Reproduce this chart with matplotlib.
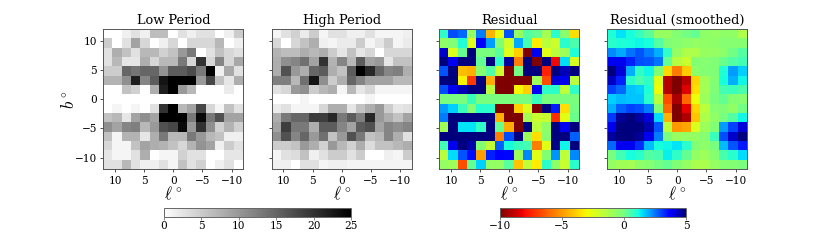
import matplotlib
matplotlib.use('Agg')
import matplotlib.pyplot as plt
import numpy as np
from matplotlib.colors import TwoSlopeNorm, Normalize
from matplotlib.cm import ScalarMappable

plt.rcParams['font.family'] = 'DejaVu Serif'
plt.rcParams['mathtext.fontset'] = 'cm'

titles = ['Low Period', 'High Period', 'Residual', 'Residual (smoothed)']
ticks = [10, 5, 0, -5, -10]
gray_ticks = [0, 5, 10, 15, 20, 25]
jet_ticks = [-10, -5, 0, 5]

low_period = [
 [0,0,1.5,3,1.5,6.5,6.5,0,3,1.5,3,3,0,1.5,5],
 [5,0,3,9,4,0,1.5,4,0,4,4,4,7,0,1.5],
 [3,8,6,3,7,7,4.5,6,10,13,0,3,6,4,3],
 [3,7,2.5,2.5,8,4,7,7,13,4,20,4,12,4,8.5],
 [5,5,15,13.5,15,15,10.5,16,16,17.5,13,25,1.5,8.5,3],
 [7.5,7.5,11,22,12,16,23,25,25,25,10,18,6,2.5,8],
 [0,0,6,4.5,0,8,22,25,10,7,0,0,0,2,0],
 [0,0,0,0,0,0,0,0,0,0,0,0,0,0,0],
 [0,1,0,1,0,3,20,25,7,9,18,4,1,6,3],
 [6,7,2.5,9,11,9,25,25,25,13,24,13,17,9,9],
 [11,9,12,12.5,7,10,17,18,24,10,20,11,4.5,7.5,4.5],
 [6,1,7.5,7.5,2.5,8,13,7,7,13,10,7,6,1.5,1.5],
 [4,1,1,6,9,8,7.5,6,4,7.5,10.5,9,1.5,5,3],
 [2.5,1,1,3,8,0,1,1,4.5,3,3,0,0,2.5,2.5],
 [3,3,7,3,1.5,1.5,3,1,6,3,4.5,0,1.5,3,0],
]
high_period = [
 [1,3,4.5,2,5,1,3,3,1.5,1.5,3,1,1,1,1.5],
 [4,0,4,6,8,1.5,1,2,2,5,1,2.5,5,1,2],
 [7.5,6.5,6.5,8,7,8,5,2.5,6,2.5,4,0,4,4,4],
 [8,11,12,14,9,20,7.5,12,7,16,9,10,2.5,6,6],
 [8,17,10,8,15,16,8,6,16,25,21,15,12,12.5,8],
 [12.5,12.5,7,14,23,11,5,8,15,12,9,9,9,7,7],
 [3,4,10,11,5,7,8,1,7,2.5,4,1,1,1,1],
 [0,0,0,1,0,0,0,0,0,0,1,0,0,0,0],
 [2,3,1,1,1,4,8,8,2.5,6,8,10,5,2.5,3],
 [8,13,15,15,19,19,21,13,16,12.5,21,10,8,6,9],
 [9,19,13,13,8,16,16,12,9,16,17,9,12,11,12],
 [11,17,12,15,10,14,6,10,17,13,6,7,12,8,3],
 [5,5,6,10,8,4.5,10,7,4.5,8,3.5,6,6,7,8],
 [1,3,3.5,6,1.5,3,5,5,3,5,0,0,1.5,1,5],
 [1.5,1.5,0,3,3,1,1.5,1.5,1,1,1,1,1,1,1],
]
residual = [
 [.9,3,2.7,-.7,2.5,-4.3,-2.6,2.9,-.7,.5,.3,-1,1,-.3,-3.5],
 [-.5,-.2,1.1,-2.4,3.9,2.2,-.1,-2,2.1,.7,-3.2,-1.5,-2,1,.6],
 [4.3,-2.3,.3,5,0,0,.4,-2.4,-3.8,-10,4,-2.5,-1.5,-.8,1.1],
 [5,4,5,5,.3,5,.9,4.7,-5.5,5,-10,5,-8,1.6,-2.2],
 [2.9,5,-4.2,-4.4,-.3,.5,-1.9,-10,.1,5,5,-7.5,5,4.5,5],
 [5,5,-3,-7,5,-4.5,-10,-10,-10,-10,-.8,-6.5,4.2,4,-1.5],
 [3,4,4.5,5,5,-1.5,-10,-10,-3,-3.8,3.8,.9,1,-1.6,.9],
 [0,0,0,.8,0,0,0,0,0,0,.8,0,0,0,0],
 [2.2,1.7,.8,-.3,1,1,-10,-10,-3.8,-2.3,-10,5,3.5,-3.5,.1],
 [2.5,5,5,5,5,5,-4.5,-10,-10,-1,-1.8,-1.8,-7.2,-2.5,.2],
 [-.9,5,1.5,1.5,.9,5,.2,-4.5,-10,5,-1.5,-.5,5,4,5],
 [5,5,5,5,5,5,-5.5,3,5,-.8,-3.5,-.3,5,5,2.8],
 [.7,4,5,4.6,-.2,-1.7,2.8,1.2,.8,.7,-5.5,-2.5,4.9,1.3,5],
 [-1.5,1.6,2.9,3.6,-4.8,3.4,3.9,3.7,-.8,2.4,-2.5,-.2,2.3,-1.6,2.4],
 [-.6,-.8,-6.5,.3,1.7,-.6,-.6,.4,-4,-1.6,-3.2,1,-.4,-1.8,1],
]
smoothed = [
 [1.1,1.5,1.2,.8,.4,-.7,-.7,-.2,.1,.3,-.4,-.6,-.4,-.5,-1.2],
 [1,1.1,1.2,1.3,1.2,.5,-.1,-.3,-.4,-.6,-.5,-.4,-.3,-.3,-.3],
 [2.4,2.1,2.6,2.9,2.5,2,.9,-.6,-1.2,-1.2,-.7,-.6,-.4,.1,.5],
 [4,4,3.4,3,2.9,2.6,.3,-1.4,-1.8,-.2,-.3,-.1,.2,.5,.7],
 [5,4.2,2,.9,1.3,-.2,-3.6,-5.6,-3.9,-.4,-.2,-.1,1.1,2.2,1.7],
 [4.4,3.4,1,.6,.9,-2.5,-9,-10,-9,-3.7,-1,-.2,1.2,2,1.3],
 [3.1,2.7,1.8,1.7,1.1,-2.8,-9,-10,-8.3,-3.5,-1,-.1,.7,.8,.6],
 [1.7,1.9,1.8,1.8,1,-1.5,-6.5,-9.2,-6,-2.8,-.8,0,.3,-.2,-.3],
 [2,2.8,3.1,3,2.5,-.2,-6,-10,-8.2,-3.7,-1.5,-.3,-.1,-.5,.1],
 [3.2,4.8,5,4.7,4.2,1.6,-4.4,-10,-9.2,-4,-1.2,-.5,0,.5,1.3],
 [4,5,5,5,4.6,2.9,-1.5,-5,-4.7,-2.3,-.8,-.2,2.2,3.1,4.2],
 [4.7,5,5,4.8,4,2.5,0,-.7,-.6,-.6,-.3,.8,3,4.3,5],
 [2.7,4,4,3.3,1.9,1.2,1.3,1.5,1,-.1,-.4,0,1.9,2.9,3.5],
 [0,.7,1.2,1,.5,.6,1.4,.9,.3,-.6,-.8,-.3,.6,1,1.6],
 [-.6,-.9,-1,-.5,-.3,.1,.3,-.1,-.6,-1.1,-1.1,-.6,-.3,-.2,0],
]

W, H = 830, 247
fig = plt.figure(figsize=(W/100, H/100), dpi=100)

def box(x0, y0, x1, y1):
    return [x0/W, 1-y1/H, (x1-x0)/W, (y1-y0)/H]

gray_norm = Normalize(0, 25)
jet_norm = TwoSlopeNorm(vmin=-10, vcenter=0, vmax=5)
panels = [(low_period, 'gray_r', gray_norm, 103.3),
          (high_period, 'gray_r', gray_norm, 271.7),
          (residual, 'jet_r', jet_norm, 439.3),
          (smoothed, 'jet_r', jet_norm, 607.3)]

for i, (data, cmap, norm, left) in enumerate(panels):
    ax = fig.add_axes(box(left, 29.3, left+140, 169.3))
    ax.imshow(np.array(data), cmap=cmap, norm=norm, extent=[12, -12, -12, 12],
              aspect='auto', interpolation='nearest')
    ax.set_xticks(ticks)
    ax.set_yticks(ticks)
    ax.tick_params(labelsize=7.6, length=2.5, width=0.6, pad=2, color='#333333')
    if i > 0:
        ax.set_yticklabels([])
    else:
        ax.set_ylabel(r'$b^\circ$', fontsize=12, labelpad=-2)
    ax.set_xlabel(r'$\ell^\circ$', fontsize=12, labelpad=0)
    ax.set_title(titles[i], fontsize=9.3, pad=3.5)
    for s in ax.spines.values():
        s.set_linewidth(0.7)
        s.set_color('#555555')

cax1 = fig.add_axes(box(164, 207.5, 351, 216.5))
cb1 = fig.colorbar(ScalarMappable(gray_norm, 'gray_r'), cax=cax1, orientation='horizontal')
cb1.set_ticks(gray_ticks)
cax2 = fig.add_axes(box(500, 207.5, 686, 216.5))
cb2 = fig.colorbar(ScalarMappable(jet_norm, 'jet_r'), cax=cax2, orientation='horizontal')
cax2.set_xscale('linear')
cb2.set_ticks(jet_ticks)
for cb in (cb1, cb2):
    cb.solids.set_edgecolor('face')
    cb.ax.tick_params(labelsize=7.6, length=2, width=0.5, pad=1.5, color='#555555')
    cb.outline.set_linewidth(0.7)
    cb.outline.set_edgecolor('#666666')

fig.savefig('out.png', dpi=100)
